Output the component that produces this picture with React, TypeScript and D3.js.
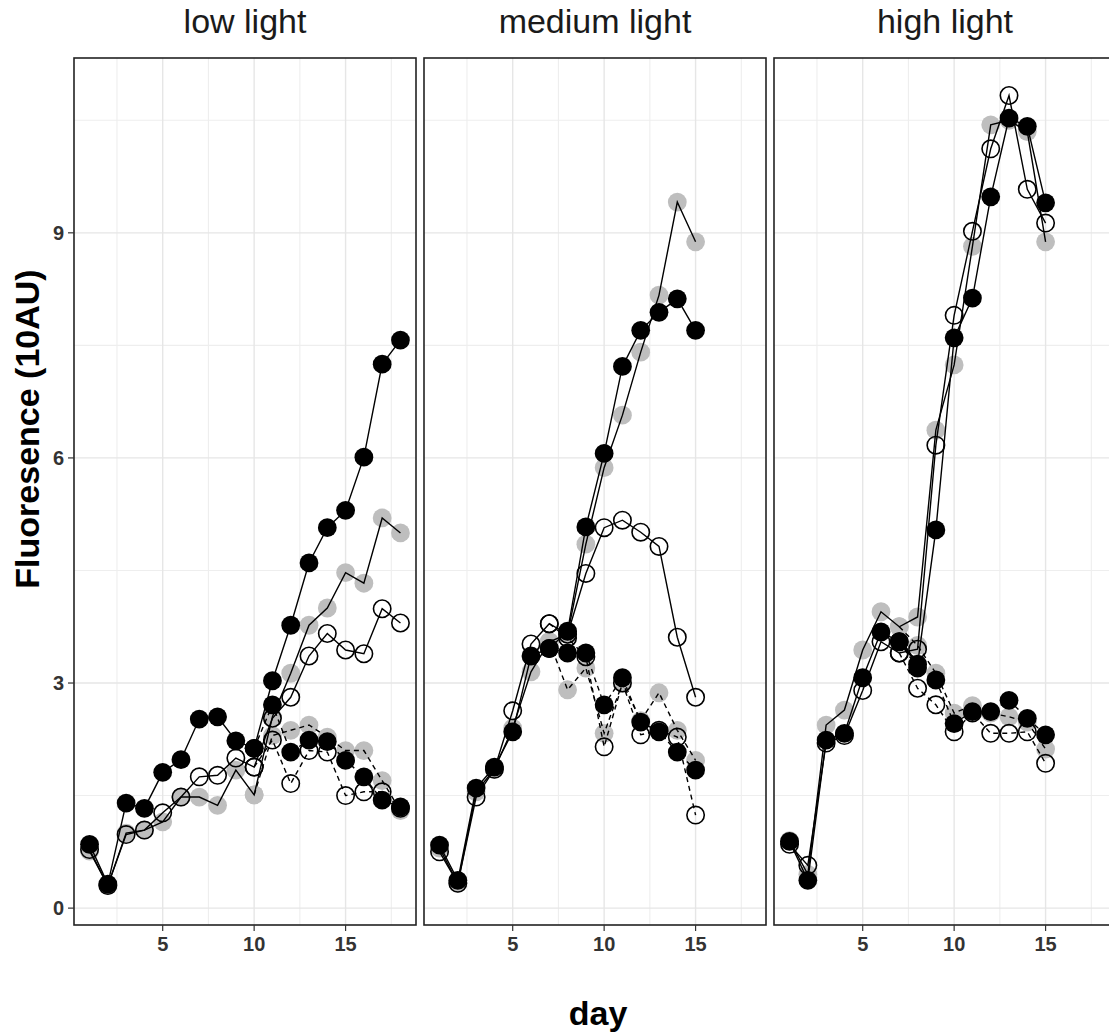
import React from "react";
import * as d3 from "d3";

// ---------- data ----------
const panelTitles = ["low light", "medium light", "high light"];
const daysLow = [1, 2, 3, 4, 5, 6, 7, 8, 9, 10, 11, 12, 13, 14, 15, 16, 17, 18];
const daysMedHigh = [1, 2, 3, 4, 5, 6, 7, 8, 9, 10, 11, 12, 13, 14, 15];
const xTicks = [5, 10, 15];
const xMinor = [2.5, 7.5, 12.5, 17.5];
const yTicks = [0, 3, 6, 9];
const yMinor = [1.5, 4.5, 7.5, 10.5];

const N = null;
// low light
const lowBlackSolid = [0.85, 0.32, 1.40, 1.33, 1.81, 1.98, 2.52, 2.55, 2.23, 2.13, 3.03, 3.77, 4.60, 5.07, 5.30, 6.01, 7.25, 7.57];
const lowGraySolid = [0.76, 0.30, 1.00, 1.04, 1.15, 1.48, 1.48, 1.37, 1.84, 1.51, 2.55, 3.13, 3.77, 4.00, 4.47, 4.33, 5.20, 5.00];
const lowOpenSolid = [0.78, 0.30, 0.98, 1.04, 1.27, 1.48, 1.75, 1.77, 2.00, 1.88, 2.53, 2.81, 3.36, 3.66, 3.44, 3.39, 3.99, 3.80];
const lowBlackDashed = [N, N, N, N, N, N, N, N, N, 2.13, 2.71, 2.08, 2.24, 2.22, 1.97, 1.75, 1.44, 1.35];
const lowGrayDashed = [N, N, N, N, N, N, N, N, N, 1.51, 2.30, 2.37, 2.44, 2.28, 2.10, 2.10, 1.70, 1.30];
const lowOpenDashed = [N, N, N, N, N, N, N, N, N, 1.88, 2.24, 1.66, 2.10, 2.08, 1.50, 1.55, 1.55, 1.33];
// medium light
const medBlackSolid = [0.84, 0.37, 1.60, 1.88, 2.35, 3.36, 3.46, 3.69, 5.08, 6.06, 7.22, 7.70, 7.94, 8.12, 7.70];
const medGraySolid = [0.80, 0.33, 1.55, 1.85, 2.40, 3.15, 3.55, 3.65, 4.85, 5.87, 6.57, 7.41, 8.17, 9.41, 8.88];
const medOpenSolid = [0.75, 0.33, 1.48, 1.85, 2.63, 3.52, 3.79, 3.65, 4.46, 5.07, 5.17, 5.01, 4.82, 3.61, 2.81];
const medBlackDashed = [N, N, N, N, N, N, 3.46, 3.40, 3.40, 2.71, 3.07, 2.48, 2.35, 2.08, 1.84];
const medGrayDashed = [N, N, N, N, N, N, 3.55, 2.91, 3.20, 2.33, 3.00, 2.50, 2.87, 2.37, 1.97];
const medOpenDashed = [N, N, N, N, N, N, 3.79, 3.60, 3.35, 2.15, 3.00, 2.31, 2.37, 2.28, 1.24];
// high light
const highBlackSolid = [0.89, 0.37, 2.24, 2.33, 3.07, 3.68, 3.55, 3.25, 5.04, 7.60, 8.13, 9.48, 10.53, 10.42, 9.40];
const highGraySolid = [0.90, 0.45, 2.44, 2.64, 3.44, 3.95, 3.75, 3.88, 6.37, 7.24, 8.82, 10.44, 10.50, 10.35, 8.88];
const highOpenSolid = [0.85, 0.57, 2.20, 2.30, 2.90, 3.55, 3.40, 3.45, 6.17, 7.90, 9.02, 10.12, 10.83, 9.58, 9.13];
const highBlackDashed = [N, N, N, N, N, N, 3.55, 3.20, 3.04, 2.46, 2.62, 2.62, 2.77, 2.53, 2.31];
const highGrayDashed = [N, N, N, N, N, N, 3.75, 3.50, 3.13, 2.60, 2.70, 2.60, 2.55, 2.48, 2.12];
const highOpenDashed = [N, N, N, N, N, N, 3.40, 2.93, 2.71, 2.35, 2.60, 2.33, 2.33, 2.35, 1.93];

type Series = { marker: "black" | "gray" | "open"; dashed: boolean; values: (number | null)[] };
const panels: { title: string; days: number[]; series: Series[] }[] = [
  {
    title: panelTitles[0], days: daysLow, series: [
      { marker: "gray", dashed: false, values: lowGraySolid },
      { marker: "gray", dashed: true, values: lowGrayDashed },
      { marker: "black", dashed: false, values: lowBlackSolid },
      { marker: "black", dashed: true, values: lowBlackDashed },
      { marker: "open", dashed: false, values: lowOpenSolid },
      { marker: "open", dashed: true, values: lowOpenDashed },
    ],
  },
  {
    title: panelTitles[1], days: daysMedHigh, series: [
      { marker: "gray", dashed: false, values: medGraySolid },
      { marker: "gray", dashed: true, values: medGrayDashed },
      { marker: "black", dashed: false, values: medBlackSolid },
      { marker: "black", dashed: true, values: medBlackDashed },
      { marker: "open", dashed: false, values: medOpenSolid },
      { marker: "open", dashed: true, values: medOpenDashed },
    ],
  },
  {
    title: panelTitles[2], days: daysMedHigh, series: [
      { marker: "gray", dashed: false, values: highGraySolid },
      { marker: "gray", dashed: true, values: highGrayDashed },
      { marker: "black", dashed: false, values: highBlackSolid },
      { marker: "black", dashed: true, values: highBlackDashed },
      { marker: "open", dashed: false, values: highOpenSolid },
      { marker: "open", dashed: true, values: highOpenDashed },
    ],
  },
];

// ---------- layout ----------
const W = 1109;
const H = 1034;
const panelTop = 58;
const panelBottom = 925;
const panelW = 342;
const panelLefts = [74, 424, 774];
const FONT = "'Liberation Sans', Arial, Helvetica, sans-serif";

const y = d3.scaleLinear().domain([-0.225, 11.33]).range([panelBottom, panelTop]);

export default function App() {
  return (
    <svg width={W} height={H} style={{ position: "absolute", left: 0, top: 0, display: "block", background: "#fff" }}>
      <rect x={0} y={0} width={W} height={H} fill="#fff" />
      {panels.map((p, pi) => {
        const x0 = panelLefts[pi];
        const x = d3.scaleLinear().domain([0.15, 18.85]).range([x0, x0 + panelW]);
        const clipId = `clip${pi}`;
        return (
          <g key={pi}>
            <defs>
              <clipPath id={clipId}>
                <rect x={x0} y={panelTop} width={panelW} height={panelBottom - panelTop} />
              </clipPath>
            </defs>
            {/* strip title */}
            <text x={x0 + panelW / 2} y={33} textAnchor="middle" fontFamily={FONT} fontSize={34} fill="#1a1a1a">
              {p.title}
            </text>
            {/* grid */}
            <g clipPath={`url(#${clipId})`}>
              {yMinor.map((v) => (
                <line key={"ym" + v} x1={x0} x2={x0 + panelW} y1={y(v)} y2={y(v)} stroke="#eeeeee" strokeWidth={1.1} />
              ))}
              {xMinor.map((v) => (
                <line key={"xm" + v} x1={x(v)} x2={x(v)} y1={panelTop} y2={panelBottom} stroke="#eeeeee" strokeWidth={1.1} />
              ))}
              {yTicks.map((v) => (
                <line key={"yM" + v} x1={x0} x2={x0 + panelW} y1={y(v)} y2={y(v)} stroke="#e6e6e6" strokeWidth={1.4} />
              ))}
              {xTicks.map((v) => (
                <line key={"xM" + v} x1={x(v)} x2={x(v)} y1={panelTop} y2={panelBottom} stroke="#e6e6e6" strokeWidth={1.4} />
              ))}
              {/* points */}
              {p.series.map((s, si) =>
                s.values.map((v, i) =>
                  v == null ? null : (
                    <circle
                      key={`p${si}-${i}`}
                      cx={x(p.days[i])}
                      cy={y(v)}
                      r={s.marker === "open" ? 8.7 : 9.4}
                      fill={s.marker === "black" ? "#000" : s.marker === "gray" ? "#bebebe" : "none"}
                      stroke={s.marker === "open" ? "#000" : "none"}
                      strokeWidth={1.6}
                    />
                  )
                )
              )}
              {/* lines */}
              {p.series.map((s, si) => {
                const line = d3
                  .line<number | null>()
                  .defined((d) => d != null)
                  .x((_, i) => x(p.days[i]))
                  .y((d) => y(d as number));
                return (
                  <path
                    key={`l${si}`}
                    d={line(s.values) || ""}
                    fill="none"
                    stroke="#000"
                    strokeWidth={1.4}
                    strokeDasharray={s.dashed ? "5,4" : undefined}
                  />
                );
              })}
            </g>
            {/* border */}
            <rect x={x0} y={panelTop} width={panelW} height={panelBottom - panelTop} fill="none" stroke="#222" strokeWidth={1.6} />
            {/* x ticks */}
            {xTicks.map((v) => (
              <g key={"xt" + v}>
                <line x1={x(v)} x2={x(v)} y1={panelBottom} y2={panelBottom + 6} stroke="#333" strokeWidth={1.2} />
                <text x={x(v)} y={951} textAnchor="middle" fontFamily={FONT} fontSize={20} fontWeight="bold" fill="#333">
                  {v}
                </text>
              </g>
            ))}
          </g>
        );
      })}
      {/* y axis ticks */}
      {yTicks.map((v) => (
        <g key={"yt" + v}>
          <line x1={panelLefts[0] - 6} x2={panelLefts[0]} y1={y(v)} y2={y(v)} stroke="#333" strokeWidth={1.2} />
          <text x={64} y={y(v)} dy="0.35em" textAnchor="end" fontFamily={FONT} fontSize={20} fontWeight="bold" fill="#333">
            {v}
          </text>
        </g>
      ))}
      {/* axis titles */}
      <text
        transform={`translate(39, 429) rotate(-90)`}
        textAnchor="middle"
        fontFamily={FONT}
        fontSize={34}
        fontWeight="bold"
        fill="#000"
      >
        Fluoresence (10AU)
      </text>
      <text x={598} y={1025} textAnchor="middle" fontFamily={FONT} fontSize={34} fontWeight="bold" fill="#000">
        day
      </text>
    </svg>
  );
}
